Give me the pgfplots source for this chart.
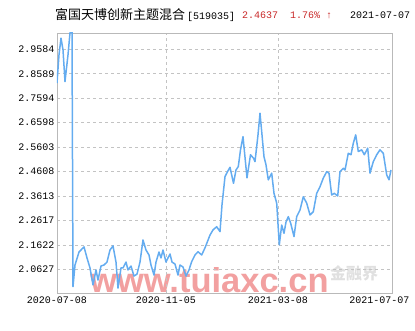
\documentclass[border=0pt]{standalone}
\usepackage{fontspec}
\setmainfont{Liberation Sans}
\newfontfamily\cjk{Noto Sans CJK SC}
\newfontfamily\mono{Liberation Mono}
\usepackage{pgfplots}
\pgfplotsset{compat=1.18}
\definecolor{linec}{RGB}{100,172,240}
\definecolor{gridc}{RGB}{195,195,195}
\definecolor{axc}{RGB}{185,185,185}
\definecolor{redc}{RGB}{200,40,40}
\definecolor{wmc}{RGB}{242,160,160}
\begin{document}
\begin{tikzpicture}[x=1pt,y=1pt]
\path[use as bounding box] (0,0) rectangle (415,330);
% watermark
\node[anchor=base west, text=wmc, font=\bfseries\fontsize{34.5}{34.5}\selectfont, inner sep=0pt] at (90,38) {www.tuiaxc.cn};
\node[anchor=west, text=black!12, font=\cjk\bfseries\fontsize{16}{16}\selectfont, inner sep=0pt] at (330,57) {金融界};
\begin{axis}[
  at={(57pt,37pt)}, anchor=south west,
  width=335pt, height=260pt, scale only axis,
  xmin=0, xmax=335, ymin=1.9661, ymax=3.0248,
  axis line style={axc},
  xtick={0,109,221}, xticklabels={2020-07-08,2020-11-05,2021-03-08},
  extra x ticks={335}, extra x tick labels={2021-07-07},
  extra x tick style={grid=none, tick label style={anchor=north east, xshift=21pt}},
  ytick={2.0627,2.1622,2.2617,2.3613,2.4608,2.5603,2.6598,2.7594,2.8589,2.9584},
  yticklabels={2.0627,2.1622,2.2617,2.3613,2.4608,2.5603,2.6598,2.7594,2.8589,2.9584},
  tick style={draw=none},
  ticklabel style={font=\mono\fontsize{10}{10}\selectfont, text=black},
  yticklabel style={xshift=1pt},
  xticklabel style={yshift=0pt},
  grid=major,
  major grid style={gridc, dash pattern=on 3pt off 3pt, line width=0.6pt},
  clip=true,
]
\addplot[linec, line width=1.5pt, line join=round] coordinates {
(0,2.821)(2,2.936)(4,3.004)(6,2.956)(8,2.827)(11,2.936)(13,3.025)(15,3.03)(16,1.992)(18,2.080)(22,2.133)(27,2.154)(30,2.109)(33,2.068)(36,1.999)(39,2.060)(41,2.019)(44,2.076)(47,2.080)(50,2.092)(53,2.141)(56,2.158)(59,2.092)(61,1.986)(64,2.068)(66,2.068)(69,2.092)(71,2.060)(74,2.076)(77,2.035)(80,2.043)(83,2.092)(86,2.182)(89,2.141)(92,2.121)(94,2.080)(97,2.039)(99,2.092)(102,2.133)(104,2.109)(106,2.141)(109,2.092)(111,2.109)(113,2.125)(115,2.092)(118,2.084)(121,2.039)(123,2.080)(126,2.072)(129,2.035)(132,2.060)(134.7,2.094)(138,2.121)(141,2.134)(144.7,2.121)(148,2.150)(153,2.202)(156,2.223)(159.7,2.236)(163,2.216)(165,2.325)(168,2.440)(170.5,2.460)(173,2.478)(176.5,2.413)(179,2.467)(181.3,2.481)(183.5,2.549)(186,2.603)(190,2.435)(193.5,2.529)(196.5,2.515)(198,2.501)(201,2.610)(203,2.698)(205,2.610)(207,2.521)(209,2.488)(211.3,2.427)(214.7,2.454)(217,2.372)(219.7,2.332)(222.3,2.162)(224.7,2.243)(227,2.209)(229,2.255)(231.3,2.277)(233.7,2.250)(237,2.196)(239.7,2.277)(243,2.304)(246.3,2.358)(249.7,2.332)(253,2.284)(256.3,2.297)(259.7,2.372)(263,2.399)(266.3,2.434)(269.7,2.460)(272,2.454)(274.7,2.365)(277.3,2.372)(280.7,2.361)(283,2.460)(286.3,2.474)(288,2.467)(291.3,2.535)(294,2.529)(296.3,2.576)(298.7,2.610)(301.3,2.542)(304.7,2.549)(307.3,2.529)(310.7,2.556)(313,2.454)(316.3,2.501)(319.7,2.529)(323,2.549)(326.3,2.535)(329.7,2.447)(332,2.427)(334,2.467)
};
\end{axis}
\node[anchor=west, inner sep=0pt] at (55,315) {{\cjk\fontsize{13}{13}\selectfont 富国天博创新主题混合}\hspace{2pt}{\mono\fontsize{10}{10}\selectfont[519035]}};
\node[anchor=west, inner sep=0pt, text=redc, font=\mono\fontsize{10}{10}\selectfont] at (242,315) {2.4637};
\node[anchor=west, inner sep=0pt, text=redc, font=\mono\fontsize{10}{10}\selectfont] at (290,315) {1.76\% ↑};
\node[anchor=west, inner sep=0pt, font=\mono\fontsize{10}{10}\selectfont] at (350,315) {2021-07-07};
\end{tikzpicture}
\end{document}
